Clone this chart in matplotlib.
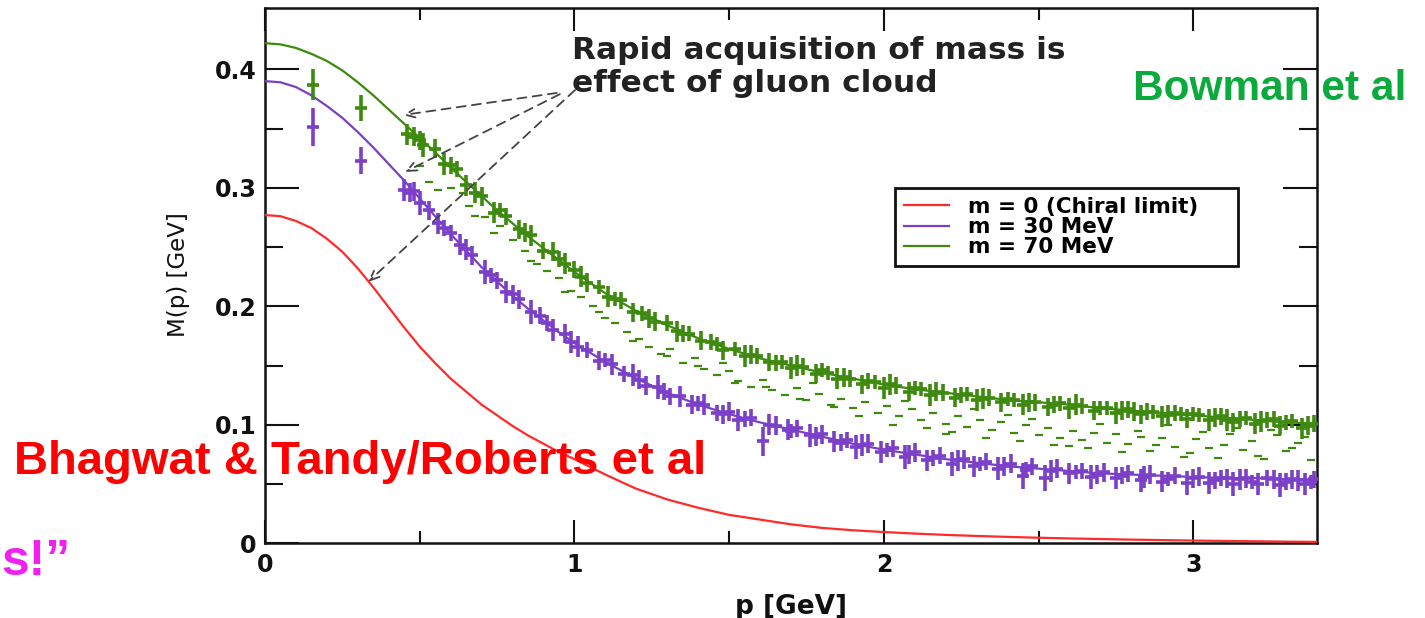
import matplotlib
matplotlib.use("Agg")
import matplotlib.pyplot as plt

# ---------------- data ----------------
p_curve = [0.0, 0.05, 0.1, 0.15, 0.2, 0.25, 0.3, 0.35, 0.4, 0.45,
           0.5, 0.55, 0.6, 0.65, 0.7, 0.75, 0.8, 0.85, 0.9, 0.95,
           1.0, 1.1, 1.2, 1.3, 1.4, 1.5, 1.6, 1.7, 1.8, 1.9,
           2.0, 2.1, 2.2, 2.3, 2.4, 2.5, 2.6, 2.7, 2.8, 2.9,
           3.0, 3.1, 3.2, 3.3, 3.4]
m0_curve = [0.277, 0.276, 0.272, 0.266, 0.257, 0.246, 0.232, 0.216, 0.199, 0.182,
            0.166, 0.152, 0.139, 0.128, 0.117, 0.108, 0.099, 0.091, 0.084, 0.077,
            0.071, 0.058, 0.046, 0.037, 0.030, 0.024, 0.020, 0.016, 0.013, 0.011,
            0.0095, 0.0082, 0.0071, 0.0062, 0.0054, 0.0047, 0.0041, 0.0036, 0.0031, 0.0027,
            0.0023, 0.0020, 0.0017, 0.0014, 0.0012]
m30_curve = [0.390, 0.389, 0.385, 0.378, 0.369, 0.359, 0.347, 0.334, 0.320, 0.306,
             0.291, 0.276, 0.261, 0.247, 0.233, 0.221, 0.209, 0.198, 0.188, 0.178,
             0.169, 0.153, 0.139, 0.127, 0.117, 0.109, 0.102, 0.096, 0.090, 0.084,
             0.079, 0.075, 0.071, 0.068, 0.065, 0.063, 0.061, 0.059, 0.058, 0.057,
             0.056, 0.055, 0.055, 0.054, 0.054]
m70_curve = [0.422, 0.421, 0.418, 0.413, 0.407, 0.399, 0.389, 0.378, 0.366, 0.354,
             0.342, 0.330, 0.317, 0.305, 0.293, 0.281, 0.270, 0.259, 0.249, 0.239,
             0.229, 0.211, 0.196, 0.184, 0.173, 0.164, 0.156, 0.150, 0.144, 0.139,
             0.134, 0.130, 0.127, 0.124, 0.121, 0.119, 0.117, 0.114, 0.112, 0.110,
             0.108, 0.106, 0.104, 0.102, 0.101]

# lattice points (Bowman et al), heavier mass
lat70_p = [0.155, 0.31,
           0.46, 0.48, 0.51, 0.55, 0.58, 0.62, 0.65, 0.70, 0.74, 0.78,
           0.82, 0.86, 0.90, 0.93, 0.97, 1.00, 1.04, 1.08, 1.11, 1.15,
           1.19, 1.22, 1.26, 1.30, 1.33, 1.37, 1.41, 1.44, 1.48, 1.52,
           1.55, 1.59, 1.63, 1.67, 1.70, 1.74, 1.78, 1.82, 1.85, 1.89,
           1.93, 1.97, 2.00, 2.04, 2.08, 2.12, 2.15, 2.19, 2.23, 2.27,
           2.30, 2.34, 2.38, 2.42, 2.45, 2.49, 2.53, 2.57, 2.60, 2.64,
           2.68, 2.72, 2.75, 2.79, 2.83, 2.87, 2.90, 2.94, 2.98, 3.02,
           3.05, 3.09, 3.13, 3.17, 3.20, 3.24, 3.28, 3.32, 3.35, 3.39,
           0.50, 0.60, 0.68, 0.76, 0.84, 0.95, 1.02, 1.13, 1.24, 1.35,
           1.46, 1.57, 1.65, 1.72, 1.80, 1.87, 1.95, 2.02, 2.10, 2.17,
           2.25, 2.32, 2.40, 2.47, 2.55, 2.62, 2.70, 2.77, 2.85, 2.92,
           3.00, 3.07, 3.15, 3.22, 3.30, 3.37, 3.26, 3.11, 2.96, 2.81]
lat70_M = [0.387, 0.367,
           0.345, 0.343, 0.336, 0.333, 0.320, 0.316, 0.302, 0.293, 0.279, 0.276,
           0.265, 0.260, 0.247, 0.246, 0.236, 0.231, 0.220, 0.216, 0.208, 0.205,
           0.195, 0.194, 0.187, 0.186, 0.179, 0.177, 0.171, 0.170, 0.163, 0.164,
           0.158, 0.158, 0.153, 0.153, 0.148, 0.149, 0.143, 0.144, 0.139, 0.139,
           0.134, 0.136, 0.131, 0.133, 0.128, 0.130, 0.125, 0.127, 0.123, 0.126,
           0.121, 0.123, 0.119, 0.121, 0.117, 0.119, 0.115, 0.118, 0.114, 0.116,
           0.112, 0.114, 0.110, 0.113, 0.109, 0.111, 0.107, 0.110, 0.105, 0.108,
           0.104, 0.107, 0.102, 0.106, 0.101, 0.104, 0.099, 0.103, 0.097, 0.101,
           0.340, 0.319, 0.296, 0.281, 0.262, 0.240, 0.225, 0.206, 0.190, 0.177,
           0.168, 0.159, 0.152, 0.150, 0.146, 0.140, 0.137, 0.134, 0.131, 0.128,
           0.125, 0.122, 0.122, 0.119, 0.117, 0.117, 0.114, 0.112, 0.111, 0.108,
           0.109, 0.106, 0.105, 0.103, 0.102, 0.099, 0.105, 0.104, 0.109, 0.111]
lat70_err = [0.013, 0.011,
             0.009, 0.008, 0.010, 0.008, 0.009, 0.007, 0.009, 0.008, 0.009, 0.007,
             0.008, 0.009, 0.007, 0.008, 0.009, 0.007, 0.008, 0.006, 0.009, 0.007,
             0.008, 0.006, 0.008, 0.007, 0.009, 0.006, 0.008, 0.007, 0.008, 0.006,
             0.009, 0.007, 0.008, 0.006, 0.009, 0.007, 0.008, 0.006, 0.009, 0.007,
             0.008, 0.006, 0.009, 0.007, 0.008, 0.006, 0.009, 0.007, 0.008, 0.006,
             0.009, 0.007, 0.008, 0.006, 0.009, 0.007, 0.008, 0.006, 0.009, 0.007,
             0.008, 0.006, 0.009, 0.007, 0.008, 0.006, 0.009, 0.007, 0.008, 0.006,
             0.009, 0.007, 0.008, 0.006, 0.009, 0.007, 0.008, 0.006, 0.009, 0.007,
             0.008, 0.007, 0.009, 0.006, 0.008, 0.007, 0.009, 0.006, 0.008, 0.007,
             0.006, 0.008, 0.007, 0.009, 0.006, 0.008, 0.007, 0.009, 0.006, 0.008,
             0.007, 0.009, 0.006, 0.008, 0.007, 0.009, 0.006, 0.008, 0.007, 0.009,
             0.006, 0.008, 0.007, 0.009, 0.006, 0.008, 0.007, 0.009, 0.006, 0.008]

# lattice points, lighter mass
lat30_p = [0.155, 0.31,
           0.45, 0.47, 0.50, 0.53, 0.56, 0.60, 0.63, 0.67, 0.71, 0.75,
           0.78, 0.82, 0.86, 0.89, 0.93, 0.97, 1.01, 1.04, 1.08, 1.12,
           1.16, 1.19, 1.23, 1.27, 1.31, 1.34, 1.38, 1.42, 1.46, 1.50,
           1.53, 1.57, 1.61, 1.65, 1.69, 1.72, 1.76, 1.80, 1.84, 1.88,
           1.91, 1.95, 1.99, 2.03, 2.07, 2.10, 2.14, 2.18, 2.22, 2.26,
           2.29, 2.33, 2.37, 2.41, 2.45, 2.48, 2.52, 2.56, 2.60, 2.64,
           2.67, 2.71, 2.75, 2.79, 2.83, 2.86, 2.90, 2.94, 2.98, 3.02,
           3.05, 3.09, 3.13, 3.17, 3.21, 3.24, 3.28, 3.32, 3.36, 3.39,
           0.48, 0.58, 0.65, 0.73, 0.80, 0.91, 0.99, 1.10, 1.21, 1.29,
           1.40, 1.48, 1.55, 1.63, 1.70, 1.78, 1.86, 1.93, 2.01, 2.08,
           2.16, 2.24, 2.31, 2.39, 2.46, 2.54, 2.62, 2.69, 2.77, 2.84,
           2.92, 3.00, 3.07, 3.15, 3.19, 3.26, 3.30, 3.34, 3.38, 3.11]
lat30_M = [0.351, 0.323,
           0.298, 0.296, 0.287, 0.281, 0.270, 0.262, 0.252, 0.243, 0.229, 0.222,
           0.212, 0.206, 0.195, 0.192, 0.180, 0.177, 0.166, 0.163, 0.154, 0.151,
           0.143, 0.142, 0.133, 0.132, 0.124, 0.124, 0.117, 0.117, 0.110, 0.111,
           0.104, 0.106, 0.086, 0.099, 0.096, 0.097, 0.091, 0.092, 0.086, 0.087,
           0.081, 0.084, 0.077, 0.080, 0.073, 0.077, 0.070, 0.074, 0.067, 0.071,
           0.065, 0.069, 0.063, 0.067, 0.057, 0.065, 0.055, 0.063, 0.059, 0.061,
           0.056, 0.060, 0.055, 0.059, 0.053, 0.058, 0.052, 0.057, 0.051, 0.056,
           0.051, 0.055, 0.050, 0.055, 0.050, 0.055, 0.049, 0.054, 0.050, 0.054,
           0.297, 0.266, 0.248, 0.226, 0.210, 0.186, 0.170, 0.155, 0.138, 0.128,
           0.118, 0.109, 0.105, 0.100, 0.095, 0.090, 0.085, 0.083, 0.079, 0.075,
           0.072, 0.070, 0.067, 0.065, 0.062, 0.061, 0.060, 0.058, 0.057, 0.056,
           0.054, 0.055, 0.053, 0.054, 0.052, 0.054, 0.052, 0.053, 0.052, 0.055]
lat30_err = [0.016, 0.011,
             0.009, 0.008, 0.010, 0.008, 0.009, 0.007, 0.009, 0.008, 0.010, 0.007,
             0.009, 0.008, 0.010, 0.007, 0.009, 0.008, 0.009, 0.007, 0.008, 0.009,
             0.007, 0.009, 0.008, 0.010, 0.007, 0.009, 0.008, 0.009, 0.007, 0.008,
             0.009, 0.007, 0.012, 0.008, 0.009, 0.007, 0.010, 0.008, 0.009, 0.007,
             0.010, 0.008, 0.009, 0.007, 0.010, 0.008, 0.009, 0.007, 0.010, 0.008,
             0.009, 0.007, 0.010, 0.008, 0.011, 0.007, 0.011, 0.008, 0.009, 0.007,
             0.010, 0.008, 0.009, 0.007, 0.010, 0.008, 0.009, 0.007, 0.010, 0.008,
             0.009, 0.007, 0.010, 0.008, 0.009, 0.007, 0.010, 0.008, 0.009, 0.007,
             0.008, 0.007, 0.009, 0.006, 0.008, 0.007, 0.009, 0.006, 0.008, 0.007,
             0.006, 0.008, 0.007, 0.009, 0.006, 0.008, 0.007, 0.009, 0.006, 0.008,
             0.007, 0.009, 0.006, 0.008, 0.007, 0.009, 0.006, 0.008, 0.007, 0.009,
             0.006, 0.008, 0.007, 0.009, 0.006, 0.008, 0.007, 0.009, 0.006, 0.008]

# small green dash markers between the bands
dash_p = [0.50, 0.53, 0.60, 0.64, 0.68, 0.71, 0.76, 0.80, 0.84, 0.88,
          0.91, 0.95, 0.99, 1.02, 1.06, 1.10, 1.13, 1.17, 1.21, 1.24,
          1.28, 1.31, 1.35, 1.39, 1.42, 1.46, 1.50, 1.53, 1.57, 1.61,
          1.64, 1.68, 1.72, 1.75, 1.79, 1.83, 1.86, 1.90, 1.94, 1.98,
          2.01, 2.05, 2.09, 2.12, 2.16, 2.20, 2.24, 2.27, 2.31, 2.35,
          2.38, 2.42, 2.46, 2.50, 2.53, 2.57, 2.61, 2.64, 2.68, 2.72,
          2.75, 2.79, 2.83, 2.86, 2.90, 2.94, 2.97, 3.01, 3.05, 3.08,
          3.12, 3.16, 3.19, 3.23, 3.27, 3.30, 3.34, 3.38, 2.20, 2.60,
          0.56, 0.66, 0.74, 0.86, 0.97, 1.08, 1.19, 1.30, 1.40, 1.52,
          1.62, 1.73, 1.84, 1.92, 2.03, 2.14, 2.22, 2.33, 2.44, 2.55,
          2.66, 2.77, 2.88, 2.99, 3.10, 3.21, 3.32, 2.48, 2.70, 3.14,
          1.48, 1.77, 2.07, 2.29, 2.40, 2.92, 3.03, 3.25, 3.36, 2.82]
dash_M = [0.318, 0.305, 0.300, 0.296, 0.276, 0.275, 0.268, 0.256, 0.247, 0.236,
          0.230, 0.224, 0.213, 0.208, 0.200, 0.190, 0.186, 0.178, 0.172, 0.166,
          0.160, 0.164, 0.152, 0.156, 0.147, 0.142, 0.145, 0.137, 0.132, 0.138,
          0.129, 0.125, 0.131, 0.121, 0.126, 0.117, 0.122, 0.114, 0.119, 0.110,
          0.116, 0.107, 0.113, 0.104, 0.110, 0.101, 0.107, 0.098, 0.104, 0.096,
          0.102, 0.093, 0.100, 0.091, 0.097, 0.089, 0.095, 0.087, 0.093, 0.085,
          0.092, 0.084, 0.090, 0.078, 0.089, 0.081, 0.073, 0.088, 0.080, 0.072,
          0.092, 0.079, 0.086, 0.071, 0.091, 0.078, 0.085, 0.070, 0.092, 0.082,
          0.298, 0.285, 0.262, 0.238, 0.212, 0.195, 0.171, 0.158, 0.150, 0.135,
          0.132, 0.122, 0.115, 0.107, 0.100, 0.097, 0.094, 0.089, 0.086, 0.083,
          0.080, 0.077, 0.083, 0.076, 0.083, 0.074, 0.080, 0.105, 0.101, 0.097,
          0.152, 0.135, 0.120, 0.113, 0.108, 0.100, 0.094, 0.096, 0.090, 0.095]

legend_labels = ["m = 0 (Chiral limit)", "m = 30 MeV", "m = 70 MeV"]
x_ticks = [0, 1, 2, 3]
x_tick_labels = ["0", "1", "2", "3"]
y_ticks = [0.0, 0.1, 0.2, 0.3, 0.4]
y_tick_labels = ["0", "0.1", "0.2", "0.3", "0.4"]

# arrows: (start p, start M) -> (tip p, tip M)
arrow_start = [(0.943, 0.380), (0.953, 0.379), (1.002, 0.3825)]
arrow_tip = [(0.446, 0.3614), (0.452, 0.3133), (0.333, 0.2205)]

# ---------------- style ----------------
RED = "#ff2a2a"
PURPLE = "#7b3fc8"
GREEN = "#3d8a0f"

plt.rcParams["font.family"] = ["DejaVu Sans"]

W, H = 1425, 618
fig = plt.figure(figsize=(W / 100, H / 100), dpi=100)
fig.patch.set_facecolor("white")

def fx(px):
    return px / W

def fy(py):
    return 1 - py / H

ax_l, ax_r, ax_t, ax_b = 265, 1317, 8, 543.3
ax = fig.add_axes([fx(ax_l), fy(ax_b), (ax_r - ax_l) / W, (ax_b - ax_t) / H])

# curves
l0, = ax.plot(p_curve, m0_curve, color=RED, lw=1.6, zorder=3)
l30, = ax.plot(p_curve, m30_curve, color=PURPLE, lw=1.6, zorder=3)
l70, = ax.plot(p_curve, m70_curve, color=GREEN, lw=1.6, zorder=3)

# lattice data
ax.errorbar(lat70_p, lat70_M, yerr=lat70_err, fmt="_", color=GREEN, ecolor=GREEN,
            elinewidth=2.6, markersize=9, markeredgewidth=2.6, capsize=0, zorder=4)
ax.errorbar(lat30_p, lat30_M, yerr=lat30_err, fmt="_", color=PURPLE, ecolor=PURPLE,
            elinewidth=2.6, markersize=9, markeredgewidth=2.6, capsize=0, zorder=4)
ax.plot(dash_p, dash_M, linestyle="none", marker="_", markersize=5.5,
        markeredgewidth=1.6, color=GREEN, zorder=2)

# arrows
for (sx, sy), (tx, ty) in zip(arrow_start, arrow_tip):
    ax.annotate("", xy=(tx, ty), xytext=(sx, sy), xycoords="data", textcoords="data",
                arrowprops=dict(arrowstyle="->,head_length=0.7,head_width=0.3",
                                linestyle=(0, (5, 3.5)), color="#444444", lw=1.3,
                                shrinkA=0, shrinkB=0), zorder=5)

# axes
ax.set_xlim(0, 3.4)
ax.set_ylim(0, 0.4517)
ax.set_xticks(x_ticks)
ax.set_xticklabels(x_tick_labels)
ax.set_yticks(y_ticks)
ax.set_yticklabels(y_tick_labels)
ax.set_xticks([0.5, 1.5, 2.5], minor=True)
ax.set_yticks([0.05, 0.15, 0.25, 0.35], minor=True)
ax.tick_params(direction="in", top=True, right=True, which="both", width=1.5,
               labelsize=17, colors="#111111")
ax.tick_params(axis="y", which="major", length=24.5, pad=6)
ax.tick_params(axis="y", which="minor", length=13)
ax.tick_params(axis="x", which="major", length=16.5, pad=7)
ax.tick_params(axis="x", which="minor", length=8.6)
for lbl in ax.get_xticklabels() + ax.get_yticklabels():
    lbl.set_fontweight("bold")
for s in ax.spines.values():
    s.set_linewidth(1.8)
    s.set_color("#111111")

ax.set_xlabel("p [GeV]", fontsize=19, fontweight="bold", color="#111111")
ax.xaxis.set_label_coords(0.5, (ax_b - 614) / (ax_b - ax_t))
ax.xaxis.label.set_va("baseline")
ax.set_ylabel("M(p) [GeV]", fontsize=16.5, color="#111111")
ax.yaxis.set_label_coords((178 - ax_l) / (ax_r - ax_l), (ax_b - 275) / (ax_b - ax_t))
ax.yaxis.label.set_va("center")

# legend
lh = 79
leg = ax.legend([l0, l30, l70], legend_labels,
                loc="upper left",
                bbox_to_anchor=(fx(895), fy(188 + lh), 343 / W, lh / H),
                bbox_transform=fig.transFigure, mode="expand", borderaxespad=0,
                prop={"family": "DejaVu Sans", "weight": "bold", "size": 15.5},
                handlelength=2.1, handletextpad=0.9, borderpad=0.4,
                labelspacing=0.02, frameon=True, fancybox=False)
leg.get_frame().set_edgecolor("#111111")
leg.get_frame().set_linewidth(2)
leg.get_frame().set_alpha(1)

# annotation text inside the chart
fig.text(fx(572), fy(59), "Rapid acquisition of mass is", fontsize=22.5,
         fontweight="bold", color="#222222", ha="left", va="baseline")
fig.text(fx(572), fy(92), "effect of gluon cloud", fontsize=22.5,
         fontweight="bold", color="#222222", ha="left", va="baseline")

# slide overlay labels
fig.text(fx(14), fy(474), "Bhagwat & Tandy/Roberts et al", color="#ff0000",
         fontsize=34, fontweight="bold", family=["Liberation Sans", "DejaVu Sans"],
         ha="left", va="baseline", zorder=10)
fig.text(fx(1133), fy(100), "Bowman et al", color="#0aaa3c",
         fontsize=30.5, fontweight="bold", family=["Liberation Sans", "DejaVu Sans"],
         ha="left", va="baseline", zorder=10)
fig.text(fx(1), fy(575), "s!\u201d", color="#f020f0",
         fontsize=36, fontweight="bold", family=["Liberation Sans", "DejaVu Sans"],
         ha="left", va="baseline", zorder=10)

fig.savefig("out.png", dpi=100)
